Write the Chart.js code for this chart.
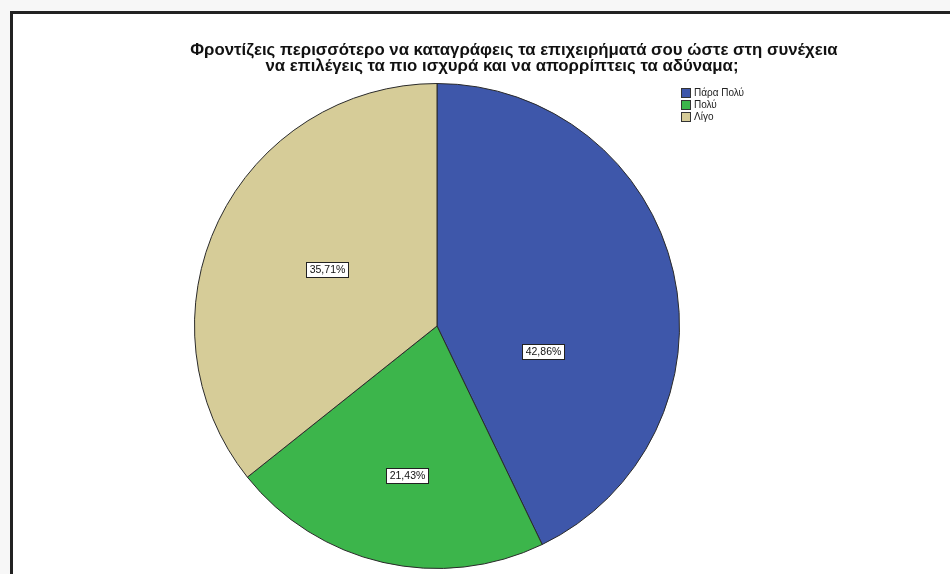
<!DOCTYPE html>
<html>
<head>
<meta charset="utf-8">
<script src="https://cdn.jsdelivr.net/npm/chart.js@4.4.1/dist/chart.umd.min.js"></script>
<style>
    html, body { margin: 0; padding: 0; background: #f7f7f7; }
    #wrap { position: absolute; left: 0; top: 0; width: 950px; height: 574px; }
    #frame {
        position: absolute; left: 10px; top: 11px; right: 0; bottom: 0;
        background: #fff;
        border-top: 3px solid #222; border-left: 3px solid #222;
    }
    #chart { position: absolute; left: 0; top: 0; }
</style>
</head>
<body>
<div id="wrap">
    <div id="frame"></div>
    <canvas id="chart" width="950" height="574"></canvas>
</div>
<script>
// Chart data
const titleLines = [
    'Φροντίζεις περισσότερο να καταγράφεις τα επιχειρήματά σου ώστε στη συνέχεια',
    'να επιλέγεις τα πιο ισχυρά και να απορρίπτεις τα αδύναμα;'
];
const categories = ['Πάρα Πολύ', 'Πολύ', 'Λίγο'];
const percentages = [42.86, 21.43, 35.71];
const sliceColors = ['#3e57aa', '#3cb54b', '#d6cc98'];

const FONT = '"Liberation Sans", Arial, sans-serif';

// Where each percentage box sits inside its slice:
// share of the slice's sweep, and share of the radius
const labelSweep = [0.67, 0.48, 0.51];
const labelRadius = [0.45, 0.63, 0.51];

// Title, slice labels and legend drawn on the canvas
const annotatePlugin = {
    id: 'annotate',
    afterDraw(chart) {
        const ctx = chart.ctx;
        ctx.save();

        // title
        ctx.fillStyle = '#111';
        ctx.font = 'bold 16.8px ' + FONT;
        ctx.textAlign = 'center';
        ctx.textBaseline = 'middle';
        ctx.fillText(titleLines[0], 514, 50);
        ctx.fillText(titleLines[1], 502, 66);

        // slice labels
        const meta = chart.getDatasetMeta(0);
        ctx.font = '10.5px ' + FONT;
        meta.data.forEach((arc, i) => {
            const a = arc.startAngle + (arc.endAngle - arc.startAngle) * labelSweep[i];
            const r = arc.outerRadius * labelRadius[i];
            const x = arc.x + Math.cos(a) * r;
            const y = arc.y + Math.sin(a) * r;
            const text = percentages[i].toFixed(2).replace('.', ',') + '%';
            const w = Math.round(ctx.measureText(text).width + 6);
            const h = 15;
            const bx = Math.round(x - w / 2) + 0.5;
            const by = Math.round(y - h / 2) + 0.5;
            ctx.fillStyle = '#fff';
            ctx.fillRect(bx, by, w, h);
            ctx.strokeStyle = '#222';
            ctx.lineWidth = 1;
            ctx.strokeRect(bx, by, w, h);
            ctx.fillStyle = '#111';
            ctx.fillText(text, bx + w / 2, by + h / 2 + 0.5);
        });

        // legend
        ctx.textAlign = 'left';
        ctx.font = '10px ' + FONT;
        categories.forEach((name, i) => {
            const y = 88 + i * 12;
            ctx.fillStyle = sliceColors[i];
            ctx.fillRect(681.5, y + 0.5, 9, 9);
            ctx.strokeStyle = '#333';
            ctx.strokeRect(681.5, y + 0.5, 9, 9);
            ctx.fillStyle = '#222';
            ctx.fillText(name, 694, y + 5.5);
        });

        ctx.restore();
    }
};

const chart = new Chart(document.getElementById('chart'), {
    type: 'pie',
    data: {
        labels: categories,
        datasets: [{
            data: percentages,
            backgroundColor: sliceColors,
            borderColor: '#2a2a2a',
            borderWidth: 1
        }]
    },
    options: {
        responsive: false,
        animation: false,
        layout: {
            padding: { top: 83, bottom: 5, left: 194, right: 270 }
        },
        plugins: {
            legend: { display: false },
            title: { display: false },
            tooltip: { enabled: false }
        }
    },
    plugins: [annotatePlugin]
});
</script>
</body>
</html>
